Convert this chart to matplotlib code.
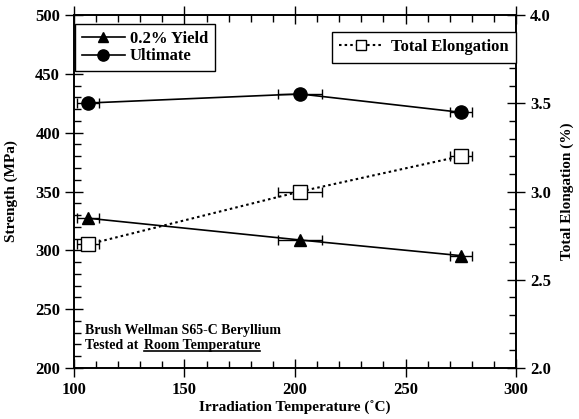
import matplotlib
matplotlib.use("Agg")
import matplotlib.pyplot as plt
from matplotlib.ticker import MultipleLocator
from matplotlib.lines import Line2D

# Irradiation temperature (deg C) with its uncertainty
temp = [106.3, 202.3, 275.0]
temp_err = [5.0, 10.0, 5.0]

# Room-temperature tensile results
yield_mpa = [327.3, 308.8, 295.5]
ultimate_mpa = [425.2, 432.9, 417.3]
elong_pct = [2.70, 3.00, 3.20]

plt.rcParams["font.family"] = ["Liberation Serif", "DejaVu Serif"]
plt.rcParams["font.weight"] = "bold"
plt.rcParams["axes.labelweight"] = "bold"

fig = plt.figure(figsize=(5.79, 4.19), dpi=100)
ax = fig.add_axes([0.1278, 0.1217, 0.8912 - 0.1278, 0.9642 - 0.1217])
ax2 = ax.twinx()

lw = 1.2
dot = (0, (1.2, 1.5))
yield_style = dict(color="black", lw=lw, marker="^", ms=8)
ult_style = dict(color="black", lw=lw, marker="o", ms=9.5)
elong_style = dict(color="black", lw=1.5, ls=dot, marker="s", ms=9.5,
                   mfc="white", mec="black", mew=1)
bar_style = dict(capsize=3.5, elinewidth=1, capthick=1, ecolor="black")

ax.errorbar(temp, yield_mpa, xerr=temp_err, **yield_style, **bar_style)
ax.errorbar(temp, ultimate_mpa, xerr=temp_err, **ult_style, **bar_style)
ax2.errorbar(temp, elong_pct, xerr=temp_err, **elong_style, **bar_style)

ax.set_xlim(100, 300)
ax.set_ylim(200, 500)
ax2.set_ylim(2.0, 4.0)

ax.xaxis.set_major_locator(MultipleLocator(50))
ax.xaxis.set_minor_locator(MultipleLocator(10))
ax.yaxis.set_major_locator(MultipleLocator(50))
ax.yaxis.set_minor_locator(MultipleLocator(10))
ax2.yaxis.set_major_locator(MultipleLocator(0.5))
ax2.yaxis.set_minor_locator(MultipleLocator(0.1))
ax2.yaxis.set_major_formatter(plt.FormatStrFormatter("%.1f"))

ax.tick_params(axis="x", which="both", top=True, bottom=True)
ax.tick_params(axis="y", which="both", left=True, right=False)
ax.tick_params(which="major", direction="inout", length=13, width=1, labelsize=12)
ax.tick_params(which="minor", direction="in", length=5, width=1)
ax2.tick_params(which="major", direction="inout", length=13, width=1, labelsize=12)
ax2.tick_params(which="minor", direction="in", length=5, width=1)
for a in (ax, ax2):
    for lab in a.get_xticklabels() + a.get_yticklabels():
        lab.set_fontweight("bold")
    for s in a.spines.values():
        s.set_linewidth(1.2)

ax.set_xlabel("Irradiation Temperature (˚C)", fontsize=11, fontweight="bold", labelpad=2)
ax.set_ylabel("Strength (MPa)", fontsize=11, fontweight="bold", labelpad=12)
ax2.set_ylabel("Total Elongation (%)", fontsize=11, fontweight="bold", labelpad=7)

h_yield = Line2D([], [], **yield_style)
h_ult = Line2D([], [], **ult_style)
h_elong = Line2D([], [], **elong_style)

leg1 = ax.legend([h_yield, h_ult], ["0.2% Yield", "Ultimate"],
                 loc="upper left", bbox_to_anchor=(0.002, 0.9745), borderaxespad=0,
                 fancybox=False, edgecolor="black", framealpha=1, markerscale=0.85,
                 handlelength=2.6, labelspacing=0.1, borderpad=0.4, handletextpad=0.3,
                 prop={"weight": "bold", "size": 12})
leg1.get_frame().set_linewidth(1)
leg2 = ax2.legend([h_elong], ["Total Elongation"],
                  loc="upper right", bbox_to_anchor=(1.0, 0.953), borderaxespad=0,
                  fancybox=False, edgecolor="black", framealpha=1, markerscale=0.75,
                  handlelength=2.6, borderpad=0.45, handletextpad=0.5,
                  prop={"weight": "bold", "size": 12})
leg2.get_frame().set_linewidth(1)

ax.text(0.025, 0.105, "Brush Wellman S65-C Beryllium", transform=ax.transAxes,
        fontsize=10, fontweight="bold", va="center", ha="left")
ax.text(0.025, 0.063, "Tested at", transform=ax.transAxes,
        fontsize=10, fontweight="bold", va="center", ha="left")
rt = ax.text(0.158, 0.063, "Room Temperature", transform=ax.transAxes,
             fontsize=10, fontweight="bold", va="center", ha="left")

fig.canvas.draw()
bb = rt.get_window_extent(renderer=fig.canvas.get_renderer())
inv = fig.transFigure.inverted()
(x0, y0), (x1, _) = inv.transform([(bb.x0, bb.y0 + 1), (bb.x1, bb.y0 + 1)])
fig.add_artist(Line2D([x0, x1], [y0, y0], transform=fig.transFigure,
                      color="black", lw=1.2))

fig.savefig("out.png", dpi=100)
